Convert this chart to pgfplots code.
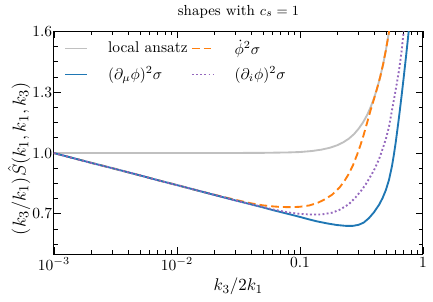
\documentclass[border=0pt]{standalone}
\usepackage{pgfplots}
\pgfplotsset{compat=1.18}
\definecolor{tabblue}{HTML}{1F77B4}
\definecolor{taborange}{HTML}{FF7F0E}
\definecolor{tabpurple}{HTML}{9467BD}
\definecolor{lgray}{HTML}{C0C0C0}
\begin{document}
\begin{tikzpicture}
\begin{axis}[
  scale only axis,
  width=238.1pt, height=143.9pt,
  xmode=log, xmin=1e-3, xmax=1,
  ymin=0.5, ymax=1.6,
  xtick={0.001,0.01,0.1,1},
  xticklabels={$10^{-3}$,$10^{-2}$,$0.1$,$1$},
  minor xtick={0.002,0.003,0.004,0.005,0.006,0.007,0.008,0.009,0.02,0.03,0.04,0.05,0.06,0.07,0.08,0.09,0.2,0.3,0.4,0.5,0.6,0.7,0.8,0.9},
  ytick={0.7,1.0,1.3,1.6},
  yticklabels={$0.7$,$1.0$,$1.3$,$1.6$},
  minor ytick={0.55,0.625,0.775,0.85,0.925,1.075,1.15,1.225,1.375,1.45,1.525},
  tick align=inside,
  major tick length=4.5pt, minor tick length=2.6pt,
  axis line style={line width=0.6pt},
  every tick/.style={black, line width=0.5pt},
  yticklabel style={inner xsep=1pt},
  xticklabel style={inner ysep=2pt},
  tick label style={font=\fontsize{10}{12}\selectfont},
  xlabel={$k_3/2k_1$},
  ylabel={$(k_3/k_1)\hat{S}(k_1,k_1,k_3)$},
  xlabel style={at={(axis description cs:0.5,-0.143)}, anchor=center, font=\fontsize{10.9}{13}\selectfont},
  ylabel style={at={(axis description cs:-0.0945,0.43)}, anchor=center, font=\fontsize{13}{15}\selectfont},
  title={shapes with $c_s=1$},
  title style={at={(axis description cs:0.5,1.047)}, anchor=center, font=\fontsize{9.4}{11}\selectfont},
  legend columns=2,
  legend cell align=left,
  legend style={at={(axis description cs:0.015,0.99)}, anchor=north west, draw=none, fill=none,
    font=\fontsize{10}{12}\selectfont, row sep=2.5pt,
    /tikz/every odd column/.append style={column sep=11pt}},
  legend image code/.code={\draw[#1] (0pt,0pt) -- (14pt,0pt);},
]
\addplot[lgray, line width=1.2pt] coordinates {
(0.001,1.0)(0.02,1.0)(0.05,1.001)(0.08,1.003)(0.1,1.005)(0.125,1.010)(0.15,1.017)(0.175,1.026)(0.2,1.038)(0.225,1.053)(0.25,1.071)(0.275,1.093)(0.3,1.120)(0.325,1.150)(0.35,1.185)(0.375,1.225)(0.4,1.270)(0.425,1.321)(0.45,1.377)(0.475,1.439)(0.5,1.508)(0.525,1.583)(0.55,1.665)
};
\addlegendentry{local ansatz}
\addplot[taborange, line width=1.2pt, dash pattern=on 5pt off 2.6pt] coordinates {
(0.001,1.000)(0.002,0.952)(0.003,0.925)(0.005,0.890)(0.007,0.866)(0.01,0.842)(0.015,0.814)(0.02,0.795)(0.03,0.769)(0.04,0.752)(0.05,0.742)(0.06,0.737)(0.07,0.734)(0.085,0.733)(0.1,0.735)(0.12,0.742)(0.14,0.755)(0.16,0.772)(0.183,0.795)(0.21,0.830)(0.23,0.862)(0.25,0.898)(0.27,0.940)(0.292,0.993)(0.311,1.040)(0.33,1.090)(0.35,1.145)(0.375,1.210)(0.4,1.266)(0.425,1.321)(0.45,1.377)(0.475,1.439)(0.5,1.508)(0.525,1.583)(0.55,1.665)
};
\addlegendentry{$\dot{\phi}^2\sigma$}
\addplot[tabblue, line width=1.2pt] coordinates {
(0.001,1.000)(0.002,0.952)(0.003,0.925)(0.005,0.890)(0.007,0.866)(0.01,0.842)(0.015,0.814)(0.02,0.794)(0.03,0.766)(0.04,0.747)(0.05,0.732)(0.06,0.719)(0.08,0.700)(0.1,0.685)(0.12,0.672)(0.14,0.662)(0.17,0.652)(0.2,0.645)(0.235,0.641)(0.27,0.641)(0.30,0.646)(0.33,0.657)(0.364,0.679)(0.40,0.708)(0.44,0.745)(0.47,0.778)(0.50,0.818)(0.53,0.868)(0.56,0.935)(0.58,0.990)(0.60,1.050)(0.62,1.115)(0.64,1.180)(0.67,1.280)(0.70,1.380)(0.73,1.480)(0.76,1.580)(0.79,1.680)
};
\addlegendentry{$(\partial_\mu\phi)^2\sigma$}
\addplot[tabpurple, line width=1.2pt, dash pattern=on 1.2pt off 1.5pt] coordinates {
(0.001,1.000)(0.002,0.952)(0.003,0.925)(0.005,0.890)(0.007,0.866)(0.01,0.842)(0.015,0.814)(0.02,0.794)(0.03,0.766)(0.04,0.748)(0.05,0.734)(0.06,0.722)(0.08,0.707)(0.1,0.700)(0.12,0.697)(0.15,0.697)(0.183,0.706)(0.21,0.720)(0.25,0.748)(0.284,0.782)(0.32,0.820)(0.342,0.845)(0.364,0.872)(0.40,0.915)(0.44,0.970)(0.47,1.020)(0.50,1.070)(0.53,1.130)(0.56,1.210)(0.60,1.310)(0.64,1.410)(0.67,1.500)(0.70,1.610)(0.72,1.670)
};
\addlegendentry{$(\partial_i\phi)^2\sigma$}
\end{axis}
\path (current axis.south west) ++(-34.8pt,-30.3pt);
\path (current axis.north east) ++(6.5pt,14.2pt);
\end{tikzpicture}
\end{document}
